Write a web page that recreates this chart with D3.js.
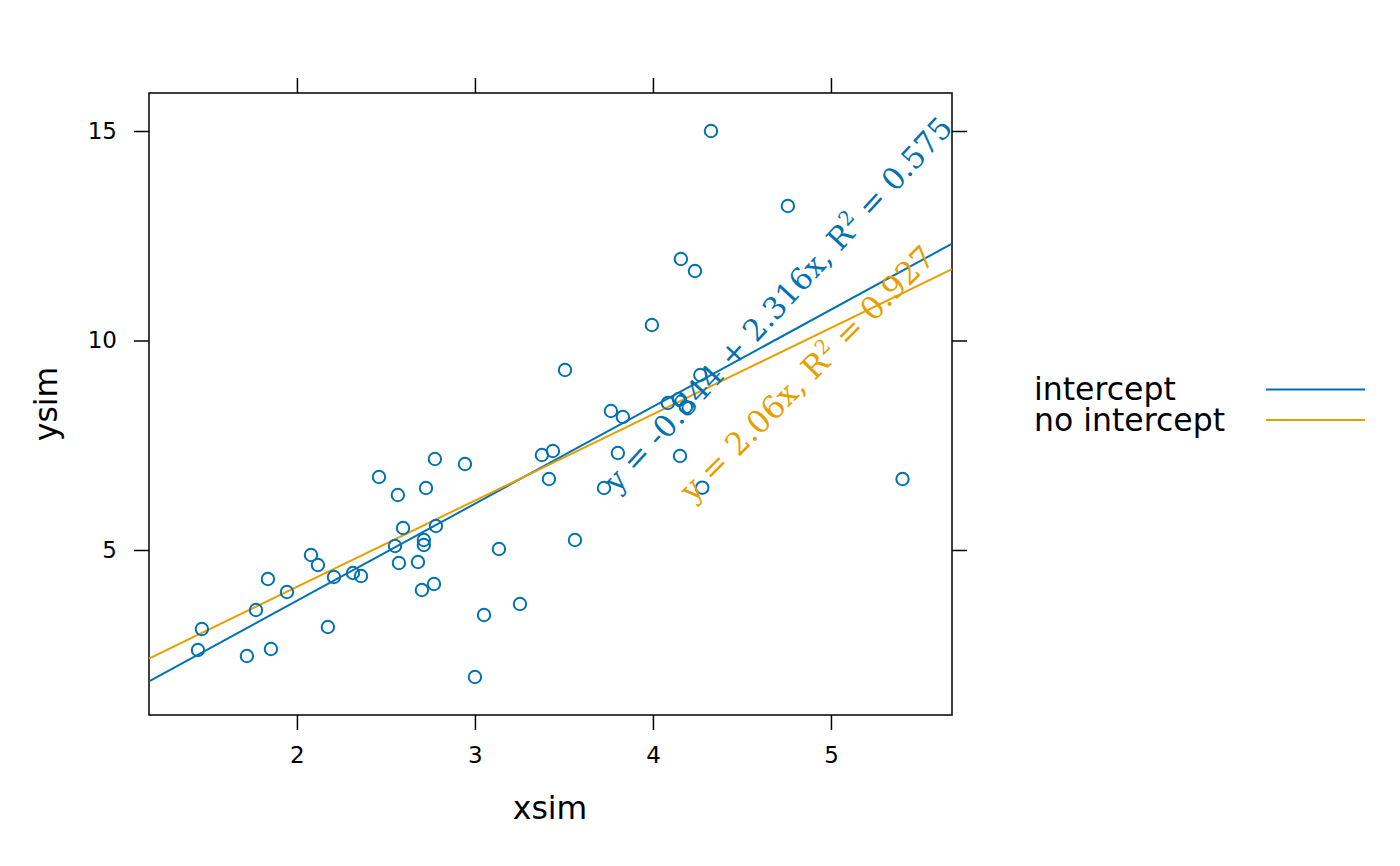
<!DOCTYPE html>
<html>
<head>
<meta charset="utf-8">
<script src="https://cdn.jsdelivr.net/npm/d3@7"></script>
<style>
  body { margin: 0; background: #fff; }
  svg { display: block; }
</style>
</head>
<body>
<svg id="chart"></svg>
<script>
// simulated data
const xsim = [
   1.444, 1.466, 1.719, 1.770, 1.837, 1.854, 1.944, 2.079, 2.118, 2.174,
   2.208, 2.315, 2.360, 2.461, 2.551, 2.567, 2.573, 2.596, 2.680, 2.702,
   2.713, 2.713, 2.725, 2.770, 2.775, 2.781, 2.944, 3.000, 3.051, 3.135,
   3.253, 3.376, 3.416, 3.438, 3.506, 3.562, 3.725, 3.764, 3.803, 3.831,
   3.994, 4.084, 4.146, 4.152, 4.157, 4.185, 4.236, 4.266, 4.277, 4.326,
   4.758, 5.402,
];
const ysim = [
   2.613, 3.115, 2.470, 3.568, 4.308, 2.637, 3.998, 4.881, 4.642, 3.162,
   4.356, 4.451, 4.379, 6.742, 5.095, 6.313, 4.690, 5.525, 4.714, 4.045,
   5.119, 5.239, 6.480, 4.189, 7.172, 5.573, 7.053, 1.969, 3.449, 5.024,
   3.711, 7.267, 6.695, 7.363, 9.296, 5.239, 6.480, 8.317, 7.315, 8.174,
   10.370, 8.508, 8.604, 7.243, 11.945, 8.413, 11.659, 9.177, 6.487, 15.000,
   13.210, 6.695,
];

// fitted models
const fitNames = ['intercept', 'no intercept'];
const fitIntercepts = [-0.844, 0];
const fitSlopes = [2.316, 2.06];
const fitR2 = [0.575, 0.927];
const fitEquations = ['y = -0.844 + 2.316x, R', 'y = 2.06x, R'];
// where each equation label starts, in data units
const labelX = [3.80, 4.224];
const labelY = [6.34, 6.12];

const xTicks = [2, 3, 4, 5];
const yTicks = [5, 10, 15];

class ScatterFit {
   constructor(_config) {
      this.config = {
         parentElement: _config.parentElement,
         containerWidth: _config.containerWidth || 1400,
         containerHeight: _config.containerHeight || 866,
         margin: { top: 93, right: 448, bottom: 151, left: 149 },
         colors: ['#0072B2', '#E69F00'],
      };
      this.initVis();
   }

   initVis() {
      const cfg = this.config;
      this.width = cfg.containerWidth - cfg.margin.left - cfg.margin.right;
      this.height = cfg.containerHeight - cfg.margin.top - cfg.margin.bottom;

      this.svg = d3
         .select(cfg.parentElement)
         .attr('width', cfg.containerWidth)
         .attr('height', cfg.containerHeight)
         .style('font-family', '"DejaVu Sans", sans-serif');

      this.chart = this.svg
         .append('g')
         .attr('transform', `translate(${cfg.margin.left}, ${cfg.margin.top})`);

      this.xScale = d3.scaleLinear().domain([1.169, 5.68]).range([0, this.width]);
      this.yScale = d3.scaleLinear().domain([1.062, 15.907]).range([this.height, 0]);

      const tick = 15;
      const pad = 17;
      const axes = [
         { axis: d3.axisBottom(this.xScale).tickValues(xTicks), at: [0, this.height], labels: true },
         { axis: d3.axisTop(this.xScale).tickValues(xTicks), at: [0, 0], labels: false },
         { axis: d3.axisLeft(this.yScale).tickValues(yTicks), at: [0, 0], labels: true },
         { axis: d3.axisRight(this.yScale).tickValues(yTicks), at: [this.width, 0], labels: false },
      ];
      axes.forEach((a) => {
         a.axis
            .tickSizeInner(tick)
            .tickSizeOuter(0)
            .tickPadding(pad)
            .tickFormat(a.labels ? d3.format('d') : '');
         const g = this.chart
            .append('g')
            .attr('class', 'axis')
            .attr('transform', `translate(${a.at[0]}, ${a.at[1]})`)
            .call(a.axis);
         g.select('.domain').remove();
         g.selectAll('line').attr('stroke', '#000').attr('stroke-width', 1.5);
         g.selectAll('text')
            .attr('fill', '#000')
            .style('font-size', '23px')
            .style('font-family', '"DejaVu Sans", sans-serif');
      });

      // panel frame
      this.chart
         .append('rect')
         .attr('width', this.width)
         .attr('height', this.height)
         .attr('fill', 'none')
         .attr('stroke', '#000')
         .attr('stroke-width', 1.5);

      this.chart
         .append('defs')
         .append('clipPath')
         .attr('id', 'panel')
         .append('rect')
         .attr('width', this.width)
         .attr('height', this.height);

      // axis titles
      this.svg
         .append('text')
         .attr('x', cfg.margin.left + 401)
         .attr('y', 819)
         .attr('text-anchor', 'middle')
         .style('font-size', '31.5px')
         .text('xsim');

      this.svg
         .append('text')
         .attr('transform', 'translate(57, 404) rotate(-90)')
         .attr('text-anchor', 'middle')
         .style('font-size', '31.5px')
         .text('ysim');

      this.updateVis();
   }

   updateVis() {
      const cfg = this.config;
      const points = xsim.map((x, i) => ({ x: x, y: ysim[i] }));
      const fits = fitNames.map((name, i) => ({
         name: name,
         a: fitIntercepts[i],
         b: fitSlopes[i],
         r2: fitR2[i],
         eq: fitEquations[i],
         lx: labelX[i],
         ly: labelY[i],
         color: cfg.colors[i],
      }));

      const [x0, x1] = this.xScale.domain();

      this.chart
         .append('g')
         .attr('clip-path', 'url(#panel)')
         .selectAll('line')
         .data(fits)
         .join('line')
         .attr('x1', this.xScale(x0))
         .attr('x2', this.xScale(x1))
         .attr('y1', (d) => this.yScale(d.a + d.b * x0))
         .attr('y2', (d) => this.yScale(d.a + d.b * x1))
         .attr('stroke', (d) => d.color)
         .attr('stroke-width', 2);

      this.chart
         .append('g')
         .selectAll('circle')
         .data(points)
         .join('circle')
         .attr('cx', (d) => this.xScale(d.x))
         .attr('cy', (d) => this.yScale(d.y))
         .attr('r', 6.2)
         .attr('fill', 'none')
         .attr('stroke', cfg.colors[0])
         .attr('stroke-width', 2);

      // equation labels
      const angles = [-47.3, -45];
      const sizes = [30.5, 31.5];
      const labels = this.chart
         .append('g')
         .selectAll('text')
         .data(fits)
         .join('text')
         .attr(
            'transform',
            (d, i) =>
               `translate(${this.xScale(d.lx)}, ${this.yScale(d.ly)}) rotate(${angles[i]})`
         )
         .attr('fill', (d) => d.color)
         .style('font-family', '"DejaVu Serif", serif')
         .style('font-size', (d, i) => `${sizes[i]}px`);
      labels.append('tspan').text((d) => d.eq);
      labels
         .append('tspan')
         .attr('dy', -12)
         .style('font-size', '20px')
         .text('2');
      labels
         .append('tspan')
         .attr('dy', 12)
         .text((d) => ` = ${d.r2}`);

      // legend
      const legend = this.svg
         .append('g')
         .selectAll('g')
         .data(fits)
         .join('g')
         .attr('transform', (d, i) => `translate(0, ${i * 30.5})`);
      legend
         .append('text')
         .attr('x', 1034)
         .attr('y', 400)
         .style('font-size', '31.5px')
         .text((d) => d.name);
      legend
         .append('line')
         .attr('x1', 1266)
         .attr('x2', 1365)
         .attr('y1', 389.5)
         .attr('y2', 389.5)
         .attr('stroke', (d) => d.color)
         .attr('stroke-width', 2);
   }
}

new ScatterFit({ parentElement: '#chart' });
</script>
</body>
</html>
